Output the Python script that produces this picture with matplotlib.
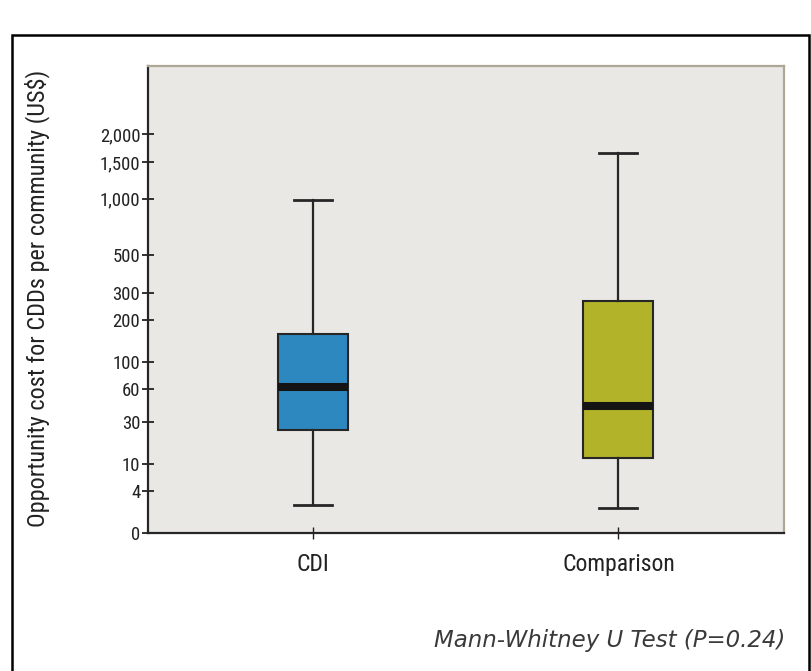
import numpy as np
import matplotlib
matplotlib.use("Agg")
import matplotlib.pyplot as plt
from matplotlib.patches import Rectangle
from matplotlib import font_manager as fm

# ---- data ----
groups = ["CDI", "Comparison"]
whisker_low = [2.1, 1.8]
q1 = [25, 12]
median = [62, 43]
q3 = [160, 265]
whisker_high = [980, 1650]
box_colors = ["#2e88c0", "#b2b328"]
ytick_values = [0, 4, 10, 30, 60, 100, 200, 300, 500, 1000, 1500, 2000]
ytick_labels = ["0", "4", "10", "30", "60", "100", "200", "300", "500",
                "1,000", "1,500", "2,000"]
ylabel = "Opportunity cost for CDDs per community (US$)"
note = "Mann-Whitney U Test (P=0.24)"

# ---- custom axis transform (compressed log-like scale) ----
K = 0.266
_Lgrid = np.linspace(0, 6, 20001)
_Fgrid = _Lgrid * np.exp(K * _Lgrid)

def fwd(x):
    x = np.asarray(x, dtype=float)
    L = np.log10(1 + np.clip(x, 0, None))
    return L * np.exp(K * L)

def inv(y):
    y = np.asarray(y, dtype=float)
    L = np.interp(y, _Fgrid, _Lgrid)
    return 10 ** L - 1

installed = {f.name for f in fm.fontManager.ttflist}
narrow = [f for f in ["Roboto Condensed", "Liberation Sans Narrow", "Open Sans Condensed"]
          if f in installed]
if narrow:
    narrow_kw = dict(fontfamily=narrow + ["DejaVu Sans"])
else:
    narrow_kw = dict(fontfamily="DejaVu Sans", fontstretch="condensed")

fig = plt.figure(figsize=(8.11, 6.71), dpi=100)
ax = fig.add_axes([148 / 811, 1 - 533.3 / 671, (784 - 148) / 811, (533.3 - 65.7) / 671])
ax.set_facecolor("#e9e8e4")
ax.set_yscale("function", functions=(fwd, inv))

stats = []
for i, g in enumerate(groups):
    stats.append(dict(label=g, whislo=whisker_low[i], q1=q1[i], med=median[i],
                      q3=q3[i], whishi=whisker_high[i], fliers=[]))

bp = ax.bxp(stats, positions=[1, 2], widths=0.229, patch_artist=True,
            showfliers=False, capwidths=0.124,
            boxprops=dict(edgecolor="#262626", linewidth=1.5),
            medianprops=dict(color="#141414", linewidth=5.8, solid_capstyle="butt"),
            whiskerprops=dict(color="#262626", linewidth=1.6),
            capprops=dict(color="#262626", linewidth=2.0))
for patch, c in zip(bp["boxes"], box_colors):
    patch.set_facecolor(c)

ax.set_xlim(0.46, 2.542)
ax.set_ylim(0, 3860)
ax.set_yticks(ytick_values)
ax.set_yticklabels(ytick_labels, fontsize=13.5, color="#222222", **narrow_kw)
ax.set_xticks([1, 2])
ax.set_xticklabels(groups, fontsize=17, color="#222222", **narrow_kw)
ax.yaxis.set_minor_locator(matplotlib.ticker.NullLocator())
ax.tick_params(axis="y", direction="inout", length=9, width=1.3, color="#222222", pad=1)
ax.tick_params(axis="x", direction="inout", length=8, width=1.0, color="#222222", pad=10)

for s in ["left", "bottom"]:
    ax.spines[s].set_color("#262626")
    ax.spines[s].set_linewidth(1.6)
for s in ["top", "right"]:
    ax.spines[s].set_color("#b0a696")
    ax.spines[s].set_linewidth(1.6)

fig.text(37 / 811, 1 - 298 / 671, ylabel, rotation=90, ha="center", va="center",
         fontsize=17.5, color="#222222", **narrow_kw)

fig.text(785 / 811, 1 - 640 / 671, note, ha="right", va="center",
         fontfamily="DejaVu Sans", fontstyle="italic", fontsize=16.5, color="#3a3a3a")

# outer frame
fig.patches.append(Rectangle((12 / 811, -0.1), (809 - 12) / 811, 1 - 35 / 671 + 0.1,
                             transform=fig.transFigure, fill=False,
                             edgecolor="black", linewidth=1.8))

fig.savefig("out.png", dpi=100)
